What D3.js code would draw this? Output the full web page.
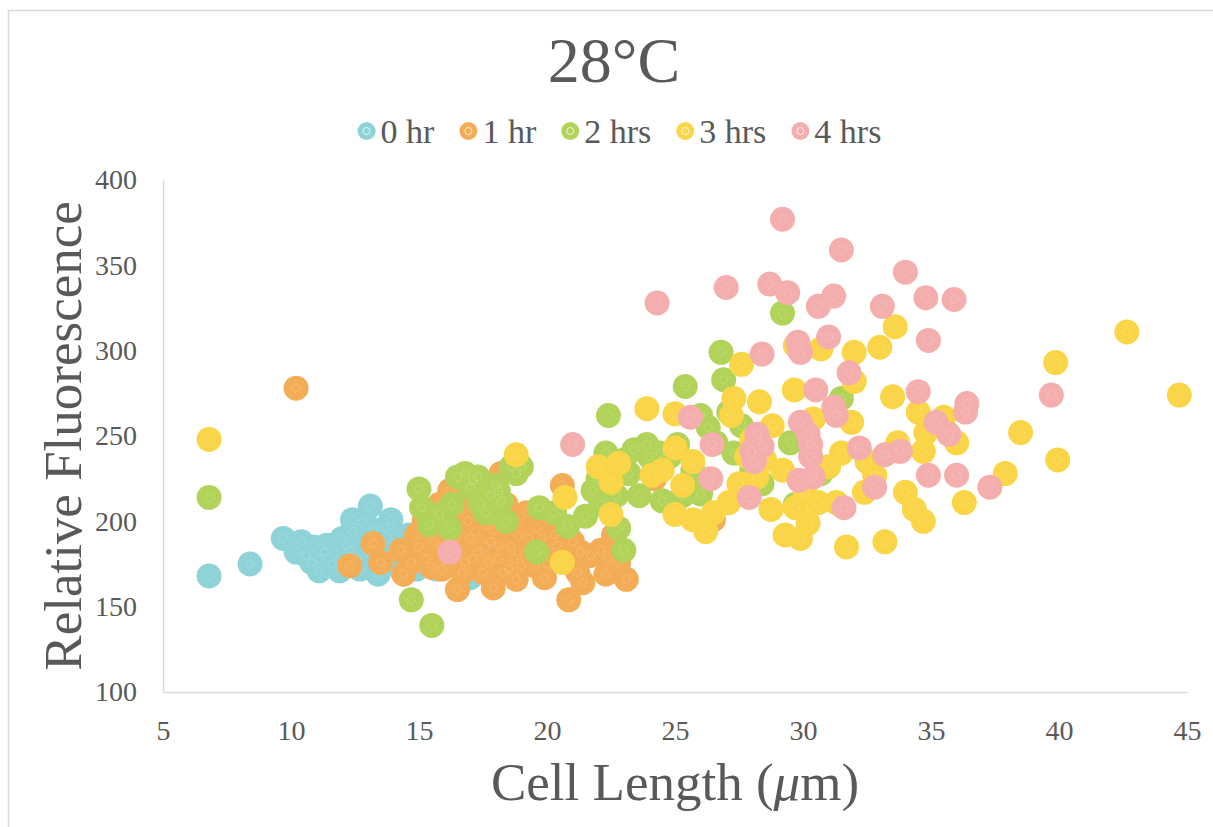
<!DOCTYPE html>
<html>
<head>
<meta charset="utf-8">
<script src="https://cdn.jsdelivr.net/npm/d3@7"></script>
<style>
    body { margin: 0; background: #fff; }
    svg text { font-family: "Liberation Serif", "Tinos", "DejaVu Serif", serif !important; fill: #595959; }
    .axis path { stroke: #d9d9d9; stroke-width: 1.5; }
</style>
</head>
<body>
<div id="chart"></div>
<script>
// data: [cell length (um), relative fluorescence]
const seriesNames = ["0 hr", "1 hr", "2 hrs", "3 hrs", "4 hrs"];
const seriesColors = ["#8dd3d7", "#f4ad57", "#b2d35a", "#f9d547", "#f3aead"];

const hr0 = [[6.8,168],[8.4,175],[9.7,190],[10.2,182],[10.4,188],[10.6,180],[10.9,185],[11.1,178],[11.1,171],
    [11.4,186],[11.7,181],[11.9,171],[12.1,176],[12.3,183],[12.4,194],[12.4,201],[12.6,178],[12.8,200],[12.9,188],
    [13.1,209],[13.2,195],[13.4,169],[13.6,180],[13.8,190],[13.9,201],[14.2,186],[14.4,176],[14.6,192],[14.9,172],
    [15.3,180],[15.7,172],[16.3,176],[17.0,167],[17.6,180],[18.4,176],[19.0,183],[19.5,199],[19.9,203],[20.3,195],
    [16.8,195],[18.2,200],[11.6,175],[12.0,190],[12.7,172],[13.0,182],[13.5,186],[14.0,180],[14.8,186],[15.5,190],
    [16.0,183],[16.6,186],[12.2,186],[11.3,182],[10.8,176],[13.7,196],[14.3,172]];

const hr1 = [[10.2,278],[12.3,174],[13.2,187],[13.5,176],[14.3,183],[14.4,169],[14.9,192],[15.2,200],[15.3,178],
    [15.6,188],[15.9,172],[16.1,197],[16.3,183],[16.5,160],[16.6,205],[16.8,176],[17.0,190],[17.1,214],[17.3,182],
    [17.5,170],[17.6,198],[17.8,188],[17.9,161],[18.0,207],[18.1,178],[18.2,228],[18.3,195],[18.5,172],[18.6,185],
    [18.8,166],[18.9,200],[19.1,180],[19.3,190],[19.5,174],[19.7,185],[19.9,167],[20.1,182],[20.3,192],[20.6,221],
    [20.7,178],[20.85,154],[21.0,188],[21.2,170],[21.4,164],[21.7,180],[22.1,183],[22.3,169],[22.8,176],[23.1,166],
    [22.6,192],[24.2,225],[26.5,201],[19.2,205],[15.8,210],[14.7,176],[15.0,185],[15.5,173],[15.7,196],[16.0,180],
    [16.4,190],[16.7,170],[16.9,200],[17.1,178],[17.2,194],[17.4,205],[17.7,176],[17.9,195],[18.1,186],[18.3,170],
    [18.4,210],[18.7,178],[18.9,192],[19.0,174],[19.4,183],[19.6,196],[20.0,175],[20.4,186],[16.2,218],[17.6,185],
    [18.5,200],[19.8,190],[21.3,182],[22.4,178]];

const hr2 = [[6.8,214],[14.7,154],[15.5,139],[15.0,219],[15.1,208],[15.4,198],[15.8,204],[16.2,196],[16.5,226],
    [16.8,228],[17.0,220],[17.3,226],[17.4,210],[17.6,205],[17.8,215],[18.0,221],[18.2,212],[18.4,200],[18.6,232],
    [18.8,228],[19.6,182],[19.7,208],[20.3,205],[20.8,197],[21.5,203],[21.8,218],[22.1,210],[22.4,262],[22.3,240],
    [22.6,232],[22.7,215],[22.8,196],[23.0,183],[23.2,228],[23.4,242],[23.6,215],[23.9,245],[24.2,232],[24.5,212],
    [24.8,238],[25.1,245],[25.3,215],[25.4,279],[25.7,230],[26.0,262],[26.3,255],[26.6,246],[26.8,299],[26.9,283],
    [27.1,264],[27.3,240],[27.6,256],[28.0,230],[28.4,222],[29.2,322],[29.5,246],[29.7,210],[30.7,228],[31.5,272],
    [26.0,216],[24.0,238],[16.3,210],[17.1,224],[18.1,218],[19.0,232],[22.0,225],[23.0,236],[24.4,240],[25.6,224]];

const hr3 = [[6.8,248],[18.8,239],[20.6,176],[20.7,214],[22.0,232],[22.5,204],[22.5,223],[22.8,234],[23.9,266],
    [24.1,227],[24.5,230],[25.0,263],[25.0,243],[25.0,204],[25.3,221],[25.7,235],[25.7,201],[26.2,194],[26.5,205],
    [27.1,211],[27.2,262],[27.3,272],[27.6,292],[27.8,238],[28.0,248],[28.2,226],[28.3,270],[28.75,207],[28.8,256],
    [29.3,192],[29.2,230],[29.7,303],[29.66,277],[29.7,208],[29.9,190],[30.1,216],[30.2,199],[30.4,260],[30.6,211],
    [30.7,301],[31.0,232],[31.3,211],[31.5,240],[31.7,185],[31.9,258],[32.0,299],[32.0,282],[32.4,217],[32.5,235],
    [32.8,227],[33.0,302],[33.2,188],[33.5,273],[33.6,314],[33.7,246],[34.0,217],[34.35,207],[34.7,200],[34.5,264],
    [34.7,241],[34.8,252],[35.5,261],[36.0,246],[36.3,211],[37.9,228],[38.5,252],[39.87,293],[39.95,236],[42.65,311],
    [44.7,274],[28.5,236],[27.5,222]];

const hr4 = [[16.2,182],[21.0,245],[24.3,328],[25.6,261],[26.45,245],[26.4,225],[27.0,337],[27.9,214],[28.0,241],
    [28.2,251],[28.4,244],[28.4,298],[28.7,339],[29.2,377],[29.4,334],[29.8,305],[29.9,299],[29.9,258],[29.85,224],
    [30.2,251],[30.3,238],[30.4,226],[30.5,277],[30.6,326],[31.0,308],[31.2,332],[31.2,267],[31.3,262],[31.5,359],
    [31.6,208],[31.8,287],[32.2,243],[32.8,220],[33.1,326],[33.2,239],[33.8,241],[34.0,346],[34.5,276],[34.8,331],
    [34.9,306],[34.9,227],[35.2,258],[35.7,251],[35.9,330],[36.0,227],[36.35,264],[36.4,269],[37.3,220],[39.7,274],
    [28.1,235],[30.3,245]];

const xTicks = [5, 10, 15, 20, 25, 30, 35, 40, 45];
const yTicks = [100, 150, 200, 250, 300, 350, 400];

const allSeries = [hr0, hr1, hr2, hr3, hr4];
const serif = "'Liberation Serif', 'Tinos', 'DejaVu Serif', serif";

let margin = {top: 180, right: 26, bottom: 135, left: 163};
let width = 1213 - margin.left - margin.right;
let height = 827 - margin.top - margin.bottom;

let svg = d3.select("#chart").append("svg")
    .attr("width", 1213)
    .attr("height", 827)
    .attr("font-family", serif);

// outer frame (only top and left edges are inside the picture)
svg.append("rect")
    .attr("x", 8.5).attr("y", 10.5)
    .attr("width", 1300).attr("height", 900)
    .attr("fill", "none")
    .attr("stroke", "#d9d9d9")
    .attr("stroke-width", 1.5);

let g = svg.append("g")
    .attr("transform", `translate(${margin.left}, ${margin.top})`);

// scales
let x = d3.scaleLinear().domain([5, 45]).range([0, width]);
let y = d3.scaleLinear().domain([100, 400]).range([height, 0]);

// axes
let xAxis = d3.axisBottom(x).tickValues(xTicks).tickSize(0).tickSizeOuter(0).tickPadding(28);
let yAxis = d3.axisLeft(y).tickValues(yTicks).tickSize(0).tickSizeOuter(0).tickPadding(26);

g.append("g")
    .attr("class", "axis")
    .attr("transform", `translate(0, ${height})`)
    .call(xAxis)
    .attr("font-family", serif)
    .attr("font-size", 28);

g.append("g")
    .attr("class", "axis")
    .call(yAxis)
    .attr("font-family", serif)
    .attr("font-size", 28);

g.selectAll(".axis text").attr("fill", "#595959");

// points, drawn series by series so later ones sit on top
allSeries.forEach((data, i) => {
    let s = g.append("g").attr("class", "series series-" + i);
    s.selectAll("circle.dot")
        .data(data)
        .enter()
        .append("circle")
        .attr("class", "dot")
        .attr("cx", d => x(d[0]))
        .attr("cy", d => y(d[1]))
        .attr("r", 12.5)
        .attr("fill", seriesColors[i]);
    // faint inner ring the original markers have
    s.selectAll("circle.ring")
        .data(data)
        .enter()
        .append("circle")
        .attr("class", "ring")
        .attr("cx", d => x(d[0]))
        .attr("cy", d => y(d[1]))
        .attr("r", 4)
        .attr("fill", "none")
        .attr("stroke", "rgba(255,255,255,0.4)")
        .attr("stroke-width", 0.8)
        .attr("stroke-dasharray", "1.5,1.5");
});

// title
svg.append("text")
    .attr("x", 614)
    .attr("y", 82)
    .attr("text-anchor", "middle")
    .style("font-size", "64px")
    .text("28°C");

// axis titles
svg.append("text")
    .attr("transform", `translate(81, ${margin.top + height / 2}) rotate(-90)`)
    .attr("text-anchor", "middle")
    .style("font-size", "53px")
    .text("Relative Fluorescence");

let xTitle = svg.append("text")
    .attr("x", margin.left + width / 2)
    .attr("y", 800)
    .attr("text-anchor", "middle")
    .style("font-size", "53px");
xTitle.append("tspan").text("Cell Length (");
xTitle.append("tspan").style("font-style", "italic").text("μ");
xTitle.append("tspan").text("m)");

// legend, laid out from the measured text widths and centred on the title
let legend = svg.append("g").attr("class", "legend");
let cursor = 0;
seriesNames.forEach((name, i) => {
    let item = legend.append("g");
    item.append("circle")
        .attr("cx", 0).attr("cy", 0).attr("r", 9)
        .attr("fill", seriesColors[i]);
    item.append("circle")
        .attr("cx", 0).attr("cy", 0).attr("r", 3.5)
        .attr("fill", "none")
        .attr("stroke", "rgba(255,255,255,0.8)")
        .attr("stroke-width", 1);
    let t = item.append("text")
        .attr("x", 14)
        .attr("y", 12)
        .style("font-size", "34px")
        .text(name);
    let w = t.node().getComputedTextLength();
    item.attr("transform", `translate(${cursor}, 0)`);
    cursor += 14 + w + 34;
});
let legendWidth = cursor - 34 + 9;
legend.attr("transform", `translate(${619.5 - legendWidth / 2 + 9}, 131)`);
</script>
</body>
</html>
